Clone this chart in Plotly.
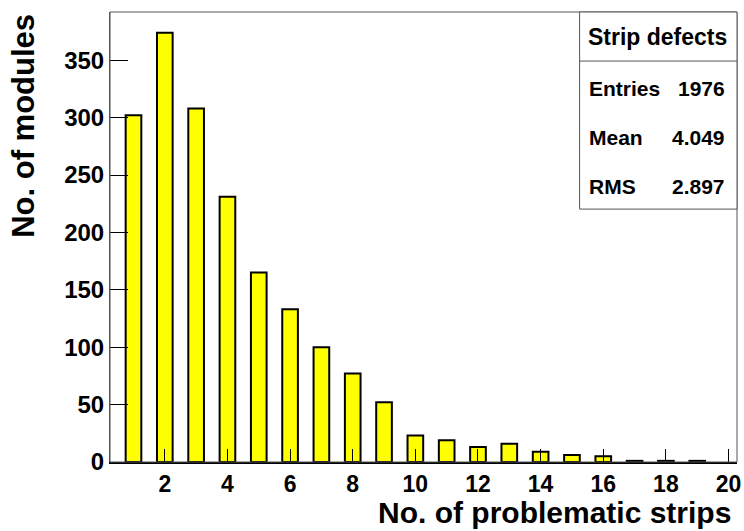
import plotly.graph_objects as go

strips = list(range(1, 20))
modules = [302, 374, 308, 231, 165, 133, 100, 77, 52, 23, 19, 13, 16, 9, 6, 5, 1, 1, 1]
x_ticks = [2, 4, 6, 8, 10, 12, 14, 16, 18, 20]
y_ticks = [0, 50, 100, 150, 200, 250, 300, 350]
stats_title = "Strip defects"
stats_labels = ["Entries", "Mean", "RMS"]
stats_values = ["1976", "4.049", "2.897"]

FONT = "Liberation Sans, Arial, sans-serif"

fig = go.Figure()
fig.add_trace(go.Bar(
    x=strips, y=modules, width=0.5,
    marker=dict(color="#ffff00", line=dict(color="black", width=2)),
))

fig.update_layout(
    width=744, height=531,
    margin=dict(l=110, r=7, t=12, b=69),
    paper_bgcolor="white", plot_bgcolor="white",
    showlegend=False,
    font=dict(family=FONT, color="black"),
    xaxis=dict(range=[0.25, 20.27], tickvals=x_ticks, ticks="inside", ticklen=13,
               tickcolor="black", tickwidth=1, showgrid=False, zeroline=False,
               showline=True, linecolor="black", linewidth=2, layer="above traces",
               automargin=False,
               tickfont=dict(family=FONT, size=23, weight="bold", color="black")),
    yaxis=dict(range=[0, 392], tickvals=y_ticks, ticks="inside", ticklen=18,
               tickcolor="black", tickwidth=1, showgrid=False, zeroline=False,
               showline=True, linecolor="#555555", linewidth=1, layer="above traces",
               automargin=False,
               tickfont=dict(family=FONT, size=24, weight="bold", color="black")),
)

# frame
fig.add_shape(type="rect", xref="paper", yref="paper", x0=0, x1=1, y0=0, y1=1,
              line=dict(color="#555555", width=1), fillcolor="rgba(0,0,0,0)", layer="above")

# stats box
bx0, by0 = 0.749, 0.562
fig.add_shape(type="rect", xref="paper", yref="paper", x0=bx0, x1=1, y0=by0, y1=1,
              line=dict(color="#555555", width=1), fillcolor="white", layer="above")
fig.add_shape(type="line", xref="paper", yref="paper", x0=bx0, x1=1, y0=0.891, y1=0.891,
              line=dict(color="#555555", width=1), layer="above")
fig.add_annotation(xref="paper", yref="paper", x=0.873, y=0.944, text=stats_title,
                   showarrow=False, xanchor="center", yanchor="middle",
                   font=dict(family=FONT, size=23, weight="bold", color="black"))
rows_y = [0.829, 0.722, 0.613]
for lab, val, yy in zip(stats_labels, stats_values, rows_y):
    fig.add_annotation(xref="paper", yref="paper", x=0.761, y=yy, text=lab,
                       showarrow=False, xanchor="left", yanchor="middle",
                       font=dict(family=FONT, size=21, weight="bold", color="black"))
    fig.add_annotation(xref="paper", yref="paper", x=0.984, y=yy, text=val,
                       showarrow=False, xanchor="right", yanchor="middle",
                       font=dict(family=FONT, size=21, weight="bold", color="black"))

# axis titles
fig.add_annotation(xref="paper", yref="paper", x=0.994, y=-0.072,
                   text="No. of problematic strips", showarrow=False,
                   xanchor="right", yanchor="top",
                   font=dict(family=FONT, size=30, weight="bold", color="black"))
fig.add_annotation(xref="paper", yref="paper", x=-0.139, y=1.0,
                   text="No. of modules", showarrow=False, textangle=-90,
                   xanchor="center", yanchor="top",
                   font=dict(family=FONT, size=31, weight="bold", color="black"))

fig.write_html("out.html", config={"displayModeBar": False},
               post_script="document.body.style.margin='0';document.body.style.overflow='hidden';")
